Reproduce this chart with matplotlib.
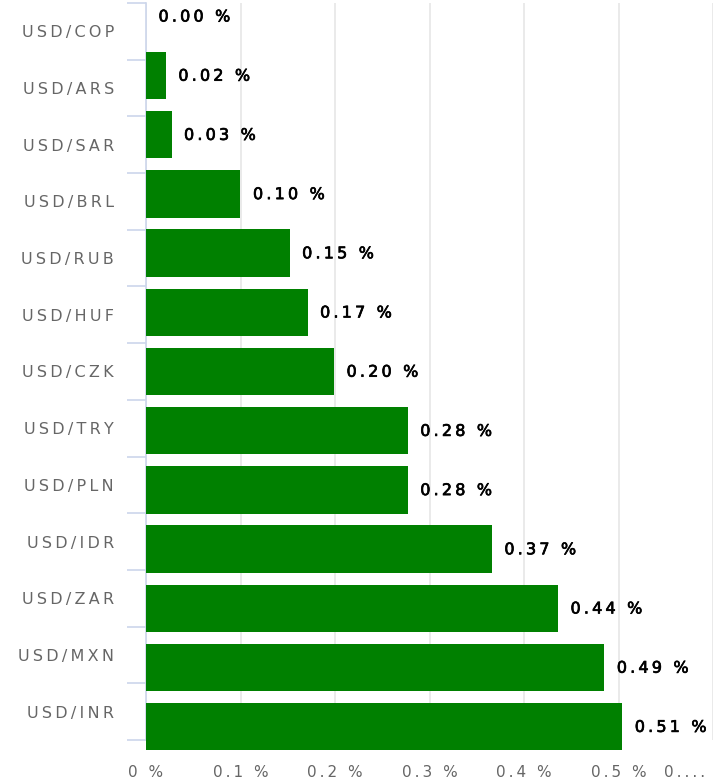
import matplotlib
matplotlib.use("Agg")
import matplotlib.pyplot as plt
import matplotlib.patheffects as pe
import matplotlib.transforms as mtransforms
import numpy as np

# Data
pairs = ["USD/COP", "USD/ARS", "USD/SAR", "USD/BRL", "USD/RUB", "USD/HUF", "USD/CZK",
         "USD/TRY", "USD/PLN", "USD/IDR", "USD/ZAR", "USD/MXN", "USD/INR"]
values = [0.0, 0.021, 0.027, 0.10, 0.152, 0.171, 0.199, 0.277, 0.277, 0.366, 0.436, 0.485, 0.504]
value_labels = ["0.00 %", "0.02 %", "0.03 %", "0.10 %", "0.15 %", "0.17 %", "0.20 %",
                "0.28 %", "0.28 %", "0.37 %", "0.44 %", "0.49 %", "0.51 %"]
x_ticks = [0, 0.1, 0.2, 0.3, 0.4, 0.5, 0.6]
x_tick_labels = ["0 %", "0.1 %", "0.2 %", "0.3 %", "0.4 %", "0.5 %", "0...."]

GREEN = "#008000"
AXIS_BLUE = "#ccd6eb"
GRID = "#e6e6e6"
GRAY = "#666666"


def spaced(s):
    # mimic the letter spacing of the original
    return "\u2009".join(s)


W, H = 725, 781
fig = plt.figure(figsize=(W / 100, H / 100), dpi=100)
left, right = 146 / W, 713 / W
bottom, top = 1 - 740 / H, 1 - 3 / H
ax = fig.add_axes([left, bottom, right - left, top - bottom])

n = len(pairs)
idx = np.arange(n)

# label axis: categories at their row centers
ax.set_xlim(0, 0.6)
ax.set_ylim(n - 0.5, -0.5)
ax.set_yticks(idx)
ax.set_yticklabels([spaced(p) for p in pairs], color=GRAY, fontsize=11.5)
ax.tick_params(axis="y", which="major", length=0, pad=23)
ax.set_yticks(np.arange(n + 1) - 0.5, minor=True)
ax.tick_params(axis="y", which="minor", length=14, width=1.2, color=AXIS_BLUE)

ax.set_xticks(x_ticks)
ax.set_xticklabels([spaced(t) for t in x_tick_labels], color=GRAY, fontsize=11)
ax.tick_params(axis="x", length=0, pad=18)
# the last label is squeezed in against the right edge
last = ax.get_xticklabels()[-1]
last.set_ha("right")
last.set_transform(last.get_transform() +
                   mtransforms.ScaledTranslation(-6 / 72, 0, fig.dpi_scale_trans))
ax.grid(axis="x", color=GRID, linewidth=1.2)
ax.set_axisbelow(True)

for side in ["top", "right", "bottom"]:
    ax.spines[side].set_visible(False)
ax.spines["left"].set_color(AXIS_BLUE)
ax.spines["left"].set_linewidth(1.2)
ax.spines["left"].set_zorder(5)

# bar axis: bars sit on a slightly different vertical scale (as in the original)
ax2 = ax.twinx()
ax2.set_ylim(12.225, -0.2247)
ax2.set_xlim(0, 0.6)
ax2.axis("off")
bars = ax2.barh(idx, values, height=0.8, color=GREEN, linewidth=0, clip_on=False)

for i, (v, lab) in enumerate(zip(values, value_labels)):
    ax2.annotate(spaced(lab), (v, i), xytext=(9, -0.5), textcoords="offset points",
                 va="center", ha="left", fontsize=11.5,
                 color="black", annotation_clip=False,
                 path_effects=[pe.withStroke(linewidth=0.5, foreground="black")])

fig.savefig("out.png", dpi=100)
